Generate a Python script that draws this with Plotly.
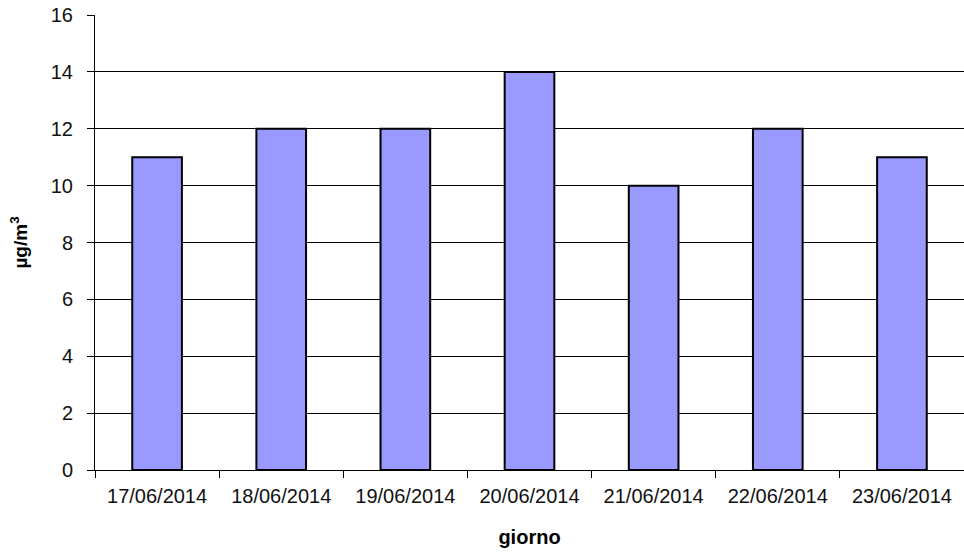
import plotly.graph_objects as go

giorni = ["17/06/2014", "18/06/2014", "19/06/2014", "20/06/2014",
          "21/06/2014", "22/06/2014", "23/06/2014"]
valori = [11, 12, 12, 14, 10, 12, 11]
y_ticks = [0, 2, 4, 6, 8, 10, 12, 14, 16]

font = "Liberation Sans, Arial, sans-serif"

fig = go.Figure(go.Bar(
    x=giorni, y=valori,
    marker=dict(color="#9999FF", line=dict(color="black", width=2)),
    width=0.4,
))

fig.update_layout(
    width=964, height=557,
    margin=dict(l=95, r=0, t=15, b=87),
    plot_bgcolor="white", paper_bgcolor="white",
    showlegend=False,
    font=dict(family=font, size=20, color="#111111"),
    xaxis=dict(
        type="category",
        showline=True, linecolor="black", linewidth=1,
        ticks="outside", ticklen=7, tickcolor="black",
        tickson="boundaries", showgrid=False,
        ticklabelstandoff=8, automargin=False,
        title=dict(text="<b>giorno</b>", font=dict(size=20, family=font, color="black"), standoff=23),
    ),
    yaxis=dict(
        range=[0, 16], tickvals=y_ticks,
        showline=True, linecolor="black", linewidth=1,
        ticks="outside", ticklen=7, tickcolor="black",
        showgrid=True, gridcolor="black", gridwidth=1,
        zeroline=False,
        ticklabelstandoff=10,
        ticklabeloverflow="allow",
        automargin=False,
        title=dict(text="<b>µg/m<sup>3</sup></b>", font=dict(size=19, family=font, color="black"), standoff=18),
    ),
)

fig.write_html("out.html", config={"displayModeBar": False},
               post_script="document.body.style.margin='0';")
